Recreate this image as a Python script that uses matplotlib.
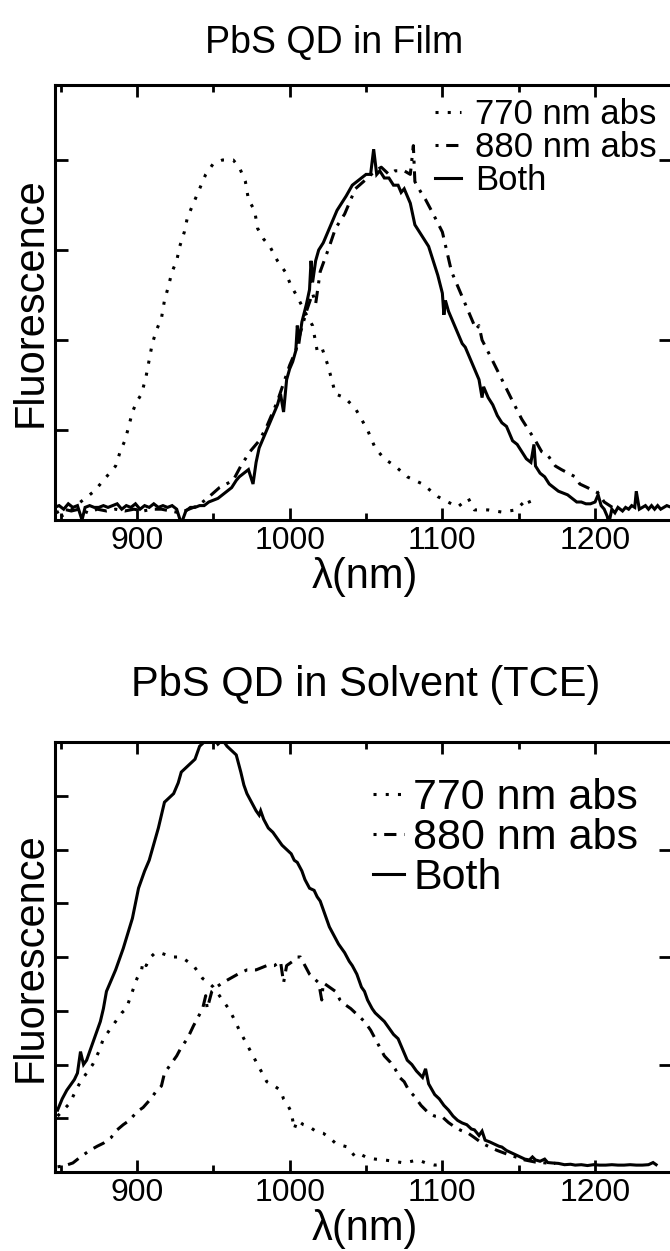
import numpy as np
import matplotlib
matplotlib.use("Agg")
import matplotlib.pyplot as plt
from matplotlib.ticker import MultipleLocator

plt.rcParams["font.family"] = ["Liberation Sans", "DejaVu Sans"]

# (wavelength nm, fluorescence)
film_770 = [(850, 0.01), (855, 0.02), (860, 0.04), (866, 0.06), (872, 0.08), (878, 0.11), (882, 0.13),
            (886, 0.15), (889, 0.19), (892, 0.22), (894, 0.25), (897, 0.30), (900, 0.33), (903, 0.35),
            (906, 0.40), (910, 0.49), (913, 0.53), (916, 0.56), (918, 0.61), (920, 0.64), (923, 0.69),
            (926, 0.72), (928, 0.76), (931, 0.80), (933, 0.84), (937, 0.88), (941, 0.92), (945, 0.96),
            (950, 0.99), (956, 1.0), (963, 1.0), (967, 0.98), (971, 0.94), (973, 0.89), (977, 0.86),
            (979, 0.81), (983, 0.78), (987, 0.76), (992, 0.72), (997, 0.69), (1001, 0.65), (1005, 0.62),
            (1011, 0.57), (1015, 0.54), (1018, 0.47), (1021, 0.48), (1025, 0.43), (1030, 0.35),
            (1036, 0.34), (1043, 0.31), (1051, 0.25), (1056, 0.20), (1062, 0.17), (1069, 0.15),
            (1077, 0.12), (1087, 0.10), (1097, 0.065), (1105, 0.047), (1110, 0.036), (1117, 0.06),
            (1121, 0.028), (1130, 0.028), (1139, 0.022), (1148, 0.028), (1156, 0.06), (1159, 0.03)]

film_880 = [(847, 0.02), (852, 0.03), (857, 0.025), (862, 0.03), (868, 0.02), (874, 0.03), (880, 0.025),
            (886, 0.03), (892, 0.025), (898, 0.03), (904, 0.025), (910, 0.03), (916, 0.03), (922, 0.025),
            (928, 0.02), (934, 0.03), (940, 0.04), (946, 0.06), (954, 0.09), (963, 0.11), (968, 0.15),
            (974, 0.19), (980, 0.22), (985, 0.26), (992, 0.33), (996, 0.38), (1000, 0.43), (1004, 0.47),
            (1007, 0.52), (1011, 0.58), (1015, 0.63), (1017, 0.60), (1020, 0.69), (1026, 0.76),
            (1030, 0.81), (1036, 0.85), (1043, 0.92), (1051, 0.95), (1056, 0.97), (1060, 0.98),
            (1065, 0.96), (1069, 0.97), (1075, 0.97), (1079, 0.96), (1081, 1.04), (1082, 0.94),
            (1086, 0.91), (1089, 0.89), (1094, 0.85), (1100, 0.80), (1106, 0.69), (1113, 0.62),
            (1119, 0.56), (1122, 0.53), (1124, 0.54), (1126, 0.50), (1132, 0.45), (1139, 0.39),
            (1146, 0.33), (1152, 0.28), (1155, 0.26), (1161, 0.22), (1165, 0.19), (1169, 0.18),
            (1174, 0.15), (1178, 0.14), (1187, 0.12), (1190, 0.10), (1195, 0.09), (1202, 0.075),
            (1206, 0.05), (1211, 0.036), (1214, 0.03)]

film_both = [(846, 0.035), (849, 0.04), (852, 0.03), (855, 0.045), (858, 0.035), (861, 0.04), (864, 0.0),
             (866, 0.035), (869, 0.04), (872, 0.035), (875, 0.035), (878, 0.04), (881, 0.035), (884, 0.04),
             (887, 0.045), (890, 0.03), (893, 0.04), (896, 0.035), (899, 0.045), (902, 0.03), (905, 0.04),
             (908, 0.035), (911, 0.045), (914, 0.035), (917, 0.04), (920, 0.035), (923, 0.04), (926, 0.03),
             (929, -0.01), (932, 0.025), (935, 0.035), (938, 0.035), (941, 0.04), (944, 0.04), (947, 0.05),
             (950, 0.055), (953, 0.06), (956, 0.07), (959, 0.08), (962, 0.09), (965, 0.11), (967, 0.12),
             (970, 0.13), (973, 0.14), (976, 0.10), (978, 0.16), (980, 0.20), (983, 0.23), (986, 0.26),
             (989, 0.29), (992, 0.32), (994, 0.35), (996, 0.30), (998, 0.39), (1000, 0.42), (1002, 0.44),
             (1004, 0.47), (1005, 0.54), (1006, 0.49), (1008, 0.55), (1011, 0.60), (1013, 0.64),
             (1014, 0.72), (1015, 0.66), (1017, 0.72), (1019, 0.75), (1022, 0.77), (1025, 0.80),
             (1028, 0.83), (1031, 0.86), (1034, 0.88), (1037, 0.90), (1041, 0.93), (1044, 0.94),
             (1047, 0.95), (1050, 0.96), (1053, 0.96), (1055, 1.03), (1057, 0.96), (1059, 0.97),
             (1062, 0.95), (1065, 0.95), (1068, 0.93), (1071, 0.93), (1073, 0.91), (1075, 0.92),
             (1077, 0.90), (1079, 0.88), (1082, 0.82), (1085, 0.80), (1088, 0.78), (1091, 0.76),
             (1094, 0.72), (1097, 0.68), (1100, 0.63), (1101, 0.57), (1102, 0.61), (1104, 0.58),
             (1106, 0.56), (1108, 0.54), (1111, 0.51), (1113, 0.49), (1115, 0.48), (1118, 0.45),
             (1121, 0.42), (1124, 0.39), (1126, 0.34), (1127, 0.37), (1130, 0.34), (1133, 0.32),
             (1136, 0.29), (1139, 0.27), (1142, 0.26), (1144, 0.24), (1146, 0.22), (1149, 0.21),
             (1152, 0.19), (1155, 0.17), (1158, 0.16), (1160, 0.21), (1161, 0.15), (1164, 0.13),
             (1167, 0.12), (1170, 0.10), (1173, 0.09), (1176, 0.08), (1179, 0.075), (1182, 0.07),
             (1185, 0.06), (1188, 0.05), (1191, 0.05), (1194, 0.045), (1197, 0.045), (1200, 0.05),
             (1202, 0.07), (1204, 0.04), (1206, 0.03), (1208, 0.01), (1209, -0.01), (1211, 0.03),
             (1213, 0.02), (1215, 0.035), (1218, 0.025), (1220, 0.035), (1222, 0.03), (1224, 0.04),
             (1226, 0.035), (1227, 0.08), (1229, 0.03), (1231, 0.035), (1233, 0.04), (1235, 0.03),
             (1237, 0.04), (1239, 0.03), (1241, 0.04), (1243, 0.03), (1245, 0.035), (1247, 0.04),
             (1250, 0.035)]

solv_770 = [(848, 0.13), (852, 0.145), (856, 0.16), (860, 0.19), (863, 0.21), (867, 0.23), (871, 0.25),
            (875, 0.28), (878, 0.31), (882, 0.33), (886, 0.35), (890, 0.37), (893, 0.38), (897, 0.42),
            (900, 0.45), (903, 0.47), (904, 0.49), (906, 0.48), (909, 0.50), (912, 0.51), (915, 0.51),
            (919, 0.505), (922, 0.50), (926, 0.50), (929, 0.50), (933, 0.49), (937, 0.48), (940, 0.465),
            (943, 0.45), (947, 0.44), (950, 0.43), (953, 0.415), (956, 0.40), (960, 0.38), (963, 0.36),
            (967, 0.33), (970, 0.31), (973, 0.29), (976, 0.27), (979, 0.25), (982, 0.23), (985, 0.21),
            (990, 0.20), (994, 0.19), (996, 0.17), (998, 0.16), (1001, 0.14), (1003, 0.10), (1005, 0.12),
            (1009, 0.11), (1013, 0.105), (1017, 0.095), (1022, 0.09), (1026, 0.08), (1030, 0.067),
            (1034, 0.062), (1038, 0.058), (1043, 0.035), (1047, 0.04), (1051, 0.033), (1056, 0.03),
            (1062, 0.028), (1068, 0.025), (1075, 0.021), (1080, 0.025), (1084, 0.028), (1090, 0.02),
            (1095, 0.016), (1100, 0.018)]

solv_880 = [(848, 0.012), (853, 0.015), (858, 0.021), (863, 0.035), (869, 0.05), (874, 0.06), (878, 0.067),
            (883, 0.08), (887, 0.098), (891, 0.11), (895, 0.12), (900, 0.14), (904, 0.15), (909, 0.17),
            (913, 0.19), (916, 0.20), (918, 0.23), (922, 0.25), (926, 0.27), (929, 0.29), (933, 0.31),
            (937, 0.34), (940, 0.36), (943, 0.38), (945, 0.41), (946, 0.38), (949, 0.42), (952, 0.43),
            (956, 0.44), (961, 0.45), (966, 0.46), (972, 0.47), (978, 0.47), (985, 0.48), (990, 0.48),
            (994, 0.49), (996, 0.44), (998, 0.48), (1002, 0.49), (1005, 0.50), (1007, 0.50), (1010, 0.48),
            (1013, 0.46), (1016, 0.45), (1019, 0.44), (1021, 0.40), (1022, 0.44), (1026, 0.43),
            (1030, 0.42), (1033, 0.40), (1036, 0.39), (1040, 0.38), (1043, 0.37), (1046, 0.36),
            (1049, 0.35), (1053, 0.33), (1056, 0.31), (1059, 0.29), (1062, 0.27), (1066, 0.255),
            (1069, 0.24), (1072, 0.22), (1075, 0.21), (1078, 0.19), (1082, 0.175), (1086, 0.155),
            (1091, 0.137), (1095, 0.13), (1100, 0.128), (1104, 0.115), (1108, 0.105), (1112, 0.097),
            (1117, 0.09), (1121, 0.08), (1126, 0.067), (1131, 0.058), (1136, 0.05), (1142, 0.042),
            (1148, 0.035), (1154, 0.028), (1161, 0.023), (1168, 0.021), (1174, 0.02)]

solv_both = [(848, 0.144), (851, 0.17), (854, 0.19), (857, 0.205), (859, 0.215), (861, 0.23), (863, 0.28),
             (865, 0.25), (867, 0.26), (869, 0.28), (871, 0.30), (874, 0.33), (876, 0.35), (878, 0.38),
             (880, 0.42), (883, 0.445), (886, 0.47), (889, 0.50), (891, 0.52), (894, 0.555), (897, 0.59),
             (899, 0.625), (901, 0.66), (903, 0.68), (905, 0.70), (908, 0.725), (910, 0.75), (912, 0.775),
             (914, 0.80), (916, 0.83), (918, 0.86), (921, 0.87), (924, 0.88), (927, 0.905), (929, 0.93),
             (932, 0.94), (935, 0.95), (938, 0.96), (941, 0.99), (944, 1.0), (947, 1.0), (950, 1.01),
             (953, 0.995), (956, 1.005), (959, 0.99), (962, 0.98), (965, 0.97), (968, 0.93), (970, 0.90),
             (972, 0.88), (975, 0.86), (978, 0.84), (980, 0.83), (981, 0.84), (983, 0.82), (986, 0.80),
             (989, 0.79), (992, 0.775), (995, 0.76), (998, 0.75), (1001, 0.74), (1003, 0.725), (1005, 0.72),
             (1008, 0.70), (1010, 0.68), (1013, 0.66), (1016, 0.655), (1018, 0.64), (1020, 0.63),
             (1023, 0.60), (1026, 0.57), (1029, 0.55), (1032, 0.53), (1036, 0.51), (1039, 0.49),
             (1041, 0.48), (1044, 0.46), (1047, 0.43), (1049, 0.42), (1051, 0.40), (1054, 0.38),
             (1056, 0.37), (1059, 0.36), (1062, 0.35), (1065, 0.335), (1068, 0.32), (1071, 0.31),
             (1074, 0.285), (1077, 0.26), (1080, 0.25), (1083, 0.235), (1087, 0.22), (1089, 0.24),
             (1091, 0.205), (1095, 0.18), (1098, 0.17), (1101, 0.155), (1104, 0.144), (1107, 0.13),
             (1110, 0.12), (1113, 0.114), (1116, 0.11), (1119, 0.10), (1121, 0.098), (1124, 0.085),
             (1126, 0.095), (1128, 0.074), (1131, 0.07), (1134, 0.065), (1137, 0.06), (1139, 0.058),
             (1142, 0.05), (1145, 0.045), (1148, 0.040), (1151, 0.035), (1154, 0.03), (1157, 0.028),
             (1159, 0.035), (1161, 0.028), (1164, 0.025), (1167, 0.03), (1169, 0.022), (1172, 0.021),
             (1176, 0.02), (1180, 0.017), (1184, 0.018), (1187, 0.016), (1191, 0.017), (1195, 0.015),
             (1199, 0.017), (1203, 0.016), (1207, 0.016), (1211, 0.017), (1215, 0.016), (1219, 0.016),
             (1223, 0.017), (1227, 0.016), (1231, 0.016), (1235, 0.017), (1238, 0.022), (1240, 0.017)]

labels = ["770 nm abs", "880 nm abs", "Both"]
titles = ["PbS QD in Film", "PbS QD in Solvent (TCE)"]
xlabel = "λ(nm)"
ylabel = "Fluorescence"

styles = [(0, (1, 3)), (0, (1, 2.5, 4, 2.5)), "-"]

fig = plt.figure(figsize=(6.7, 12.51), dpi=100)
W, H = 670.0, 1251.0


def make_axes(top, bottom):
    return fig.add_axes([55 / W, 1 - bottom / H, 617 / W, (bottom - top) / H])


def style_axes(ax, ylim, ymaj, ymin):
    ax.set_xlim(846.3, 1250.4)
    ax.set_ylim(*ylim)
    ax.xaxis.set_major_locator(MultipleLocator(100))
    ax.xaxis.set_minor_locator(MultipleLocator(50))
    ax.yaxis.set_major_locator(MultipleLocator(ymaj))
    ax.yaxis.set_minor_locator(MultipleLocator(ymin))
    ax.tick_params(which="both", direction="in", top=True, right=True, width=2.0, labelsize=23, pad=4)
    ax.tick_params(axis="x", which="major", length=8.5)
    ax.tick_params(axis="x", which="minor", length=5)
    ax.tick_params(axis="y", which="both", length=9.5, labelleft=False)
    ax.tick_params(axis="y", which="minor", right=False)
    for s in ax.spines.values():
        s.set_linewidth(2.2)


panels = [
    (85, 520, (0, 435 / 360), 0.5, 0.25, [film_770, film_880, film_both], 25, (435, 98), 0.75, 0.4),
    (742, 1172, (0, 1.0), 0.25, 0.125, [solv_770, solv_880, solv_both], 31, (373, 778), 0.72, 0.22),
]

title_pos = [(334, 43, 27), (366, 685, 30)]
xlabel_y = [577, 1229]

for i, (top, bot, ylim, ymaj, ymin, series, lfs, lpos, hl, htp) in enumerate(panels):
    ax = make_axes(top, bot)
    style_axes(ax, ylim, ymaj, ymin)
    for data, ls, lab in zip(series, styles, labels):
        arr = np.array(data)
        ax.plot(arr[:, 0], arr[:, 1], color="black", lw=2.2, ls=ls, label=lab,
                solid_joinstyle="miter")
    ax.legend(loc="upper left", bbox_to_anchor=(lpos[0] / W, 1 - lpos[1] / H),
              bbox_transform=fig.transFigure, frameon=False, fontsize=lfs,
              borderpad=0, borderaxespad=0, handlelength=hl, handletextpad=htp,
              labelspacing=0.0)
    tx, ty, tfs = title_pos[i]
    fig.text(tx / W, 1 - ty / H, titles[i], ha="center", va="center", fontsize=tfs)
    fig.text(365 / W, 1 - xlabel_y[i] / H, xlabel, ha="center", va="center", fontsize=30)
    fig.text(31 / W, 1 - (top + bot) / 2 / H, ylabel, ha="center", va="center",
             rotation=90, fontsize=30)

fig.savefig("out.png", dpi=100)
